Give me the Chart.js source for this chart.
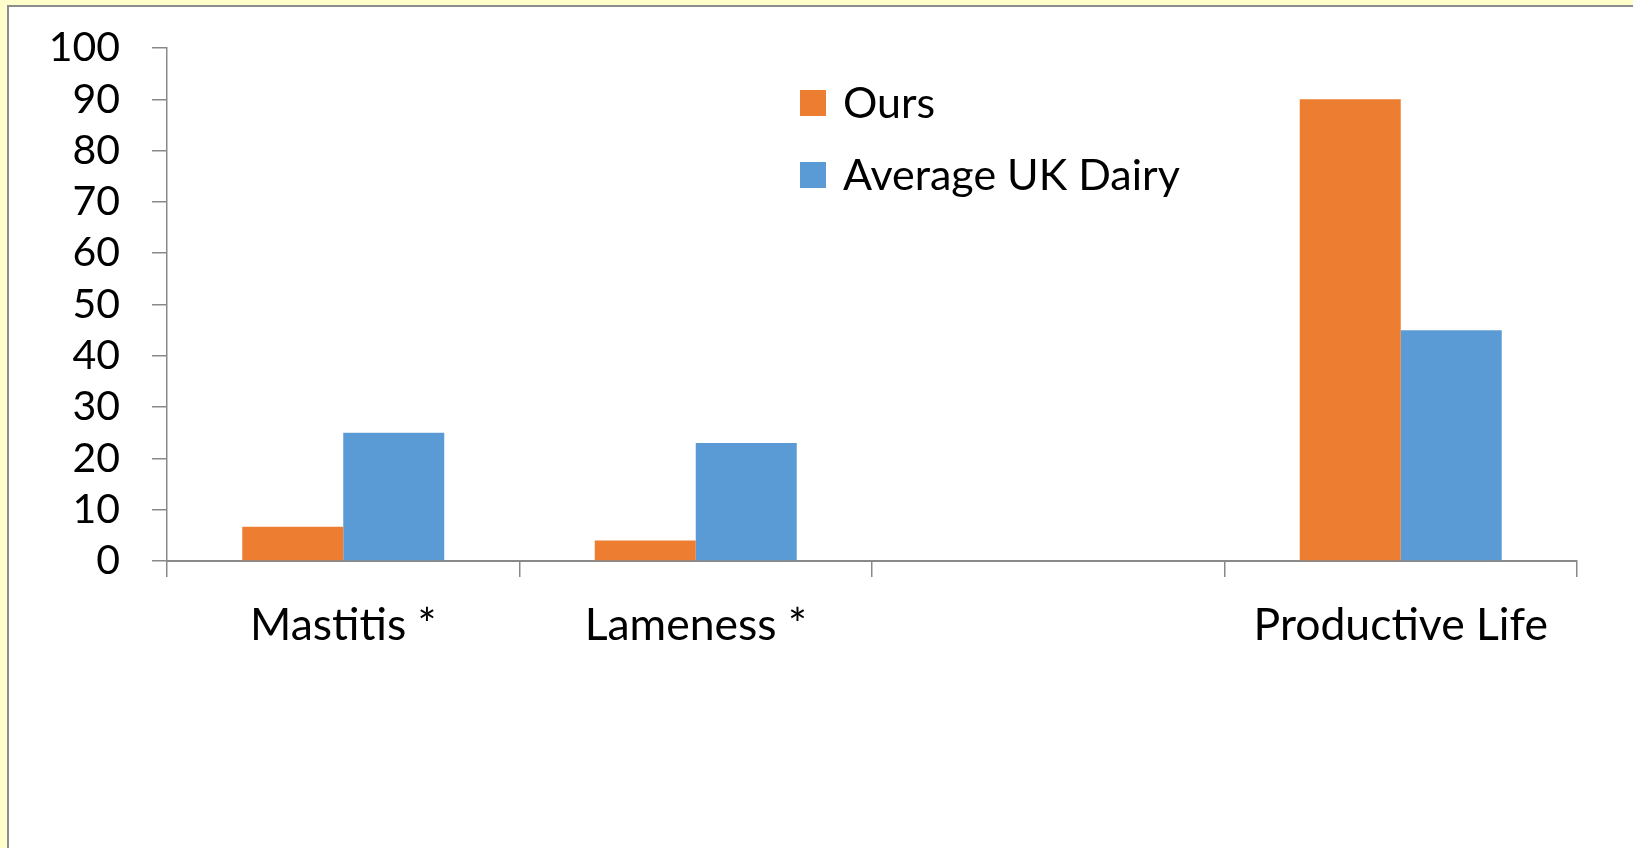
<!DOCTYPE html>
<html>
<head>
<meta charset="utf-8">
<script src="https://cdn.jsdelivr.net/npm/chart.js@4/dist/chart.umd.min.js"></script>
<style>
  html, body { margin: 0; padding: 0; }
  body { width: 1633px; height: 848px; background: #ffffcc; position: relative; overflow: hidden; }
  .panel {
    position: absolute; left: 7px; top: 5px; right: 0; bottom: 0;
    background: #fff; border-left: 2px solid #8c8c8c; border-top: 2px solid #8c8c8c;
  }
  #chart { position: absolute; left: 0; top: 0; }
</style>
</head>
<body>
<div class="panel"></div>
<canvas id="chart" width="1633" height="848"></canvas>
<script>
const categories = ['Mastitis *', 'Lameness *', '', 'Productive Life'];
const ours = [6.7, 4, null, 90];
const averageUK = [25, 23, null, 45];
const yTicks = [0, 10, 20, 30, 40, 50, 60, 70, 80, 90, 100];

const ORANGE = '#ed7d31';
const BLUE = '#5b9bd5';
const AXIS = '#898989';
const FONT = "Lato, 'Open Sans', sans-serif";

// Legend sits inside the plot, so draw it by hand
const floatingLegend = {
  id: 'floatingLegend',
  afterDraw(chart) {
    const ctx = chart.ctx;
    const rows = [103, 175];
    ctx.save();
    ctx.font = '43px ' + FONT;
    ctx.textBaseline = 'middle';
    ctx.textAlign = 'left';
    chart.data.datasets.forEach((ds, i) => {
      const y = rows[i];
      ctx.fillStyle = ds.backgroundColor;
      ctx.fillRect(800, y - 13, 26, 26);
      ctx.fillStyle = '#000';
      ctx.fillText(ds.label, 843, y + 1);
    });
    ctx.restore();
  }
};

Chart.defaults.font.family = FONT;
Chart.defaults.color = '#000';

new Chart(document.getElementById('chart'), {
  type: 'bar',
  data: {
    labels: categories,
    datasets: [
      { label: 'Ours', data: ours, backgroundColor: ORANGE, borderWidth: 0 },
      { label: 'Average UK Dairy', data: averageUK, backgroundColor: BLUE, borderWidth: 0 }
    ]
  },
  options: {
    responsive: false,
    animation: false,
    events: [],
    datasets: { bar: { categoryPercentage: 0.573, barPercentage: 1 } },
    layout: { padding: { top: 48, right: 56, left: 0, bottom: 0 } },
    plugins: { legend: { display: false }, tooltip: { enabled: false } },
    scales: {
      x: {
        afterFit: s => { s.height = 287; s.paddingLeft = 0; s.paddingRight = 0; },
        grid: { drawOnChartArea: false, tickLength: 16, color: AXIS, lineWidth: 1.5, offset: true },
        border: { color: AXIS, width: 2 },
        ticks: { font: { size: 44.5 }, padding: 22, color: '#000' }
      },
      y: {
        min: 0,
        max: 100,
        afterFit: s => { s.width = 167; s.paddingTop = 0; s.paddingBottom = 0; },
        afterBuildTicks: s => { s.ticks = yTicks.map(v => ({ value: v })); },
        grid: { drawOnChartArea: false, tickLength: 15, color: AXIS, lineWidth: 1.5 },
        border: { color: AXIS, width: 1.5 },
        ticks: { font: { size: 41 }, padding: 32, color: '#000', autoSkip: false }
      }
    }
  },
  plugins: [floatingLegend]
});
</script>
</body>
</html>
